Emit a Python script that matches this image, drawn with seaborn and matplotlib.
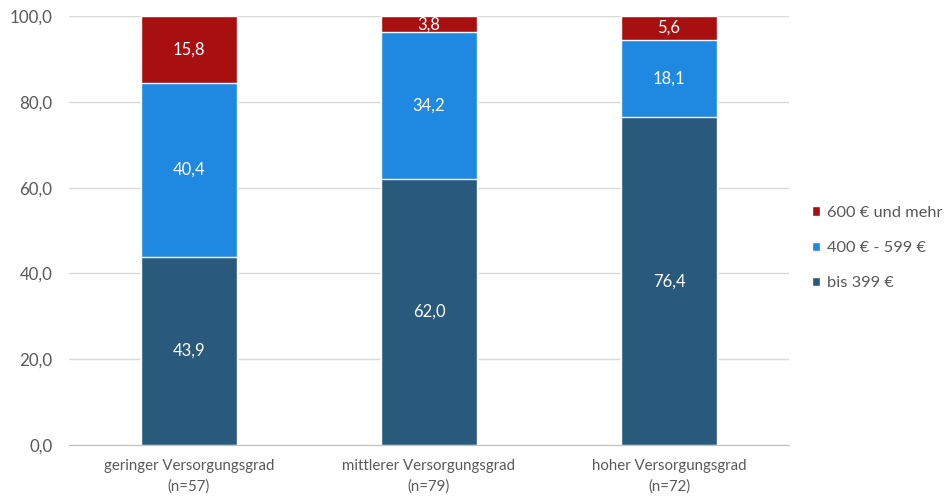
import pandas as pd
import numpy as np
import matplotlib.pyplot as plt
import seaborn as sns
from matplotlib.patches import Patch
from matplotlib.ticker import FuncFormatter

categories = ['geringer Versorgungsgrad\n(n=57)', 'mittlerer Versorgungsgrad\n(n=79)', 'hoher Versorgungsgrad\n(n=72)']
series = ['bis 399 €', '400 € - 599 €', '600 € und mehr']
bis_399 = [43.9, 62.0, 76.4]
von_400_599 = [40.4, 34.2, 18.1]
ab_600 = [15.8, 3.8, 5.6]
colors = ['#295a7c', '#1f88e0', '#a80f10']

sns.set_style('white')
plt.rcParams['font.family'] = ['Lato', 'DejaVu Sans']

values = np.array([bis_399, von_400_599, ab_600])
tops = values.cumsum(axis=0)

fig = plt.figure(figsize=(9.49, 5.01), dpi=100)
ax = fig.add_axes([0.0727, 0.1118, 0.7587, 0.856])

# stacked: draw cumulative totals from the top segment down
for i in range(len(series) - 1, -1, -1):
    df = pd.DataFrame({'cat': categories, 'val': tops[i]})
    sns.barplot(data=df, x='cat', y='val', color=colors[i], saturation=1,
                width=0.4, edgecolor='white', linewidth=1, ax=ax)

for i in range(len(series)):
    for j, cat in enumerate(categories):
        y = tops[i][j] - values[i][j] / 2
        ax.text(j, y, f'{values[i][j]:.1f}'.replace('.', ','), ha='center', va='center',
                color='white', fontsize=12)

ax.set_ylim(0, 100)
ax.set_xlim(-0.5, 2.5)
ax.set_yticks(range(0, 101, 20))
ax.yaxis.set_major_formatter(FuncFormatter(lambda v, p: f'{v:.1f}'.replace('.', ',')))
ax.grid(axis='y', color='#d9d9d9', linewidth=1)
ax.set_axisbelow(True)
for s in ['top', 'right', 'left']:
    ax.spines[s].set_visible(False)
ax.spines['bottom'].set_color('#bfbfbf')
ax.tick_params(axis='y', colors='#595959', labelsize=12.2, length=0, pad=12)
ax.tick_params(axis='x', colors='#595959', labelsize=10.8, length=0, pad=10)
for lbl in ax.get_xticklabels():
    lbl.set_linespacing(1.6)
ax.set_xlabel('')
ax.set_ylabel('')

handles = [Patch(facecolor=colors[i], label=series[i]) for i in range(len(series) - 1, -1, -1)]
fig.legend(handles=handles, loc='center left', bbox_to_anchor=(0.84, 0.505), frameon=False,
           fontsize=11.8, handlelength=0.5, handleheight=0.5, handletextpad=0.4,
           labelspacing=1.3, labelcolor='#595959')

fig.savefig('out.png', dpi=100)
